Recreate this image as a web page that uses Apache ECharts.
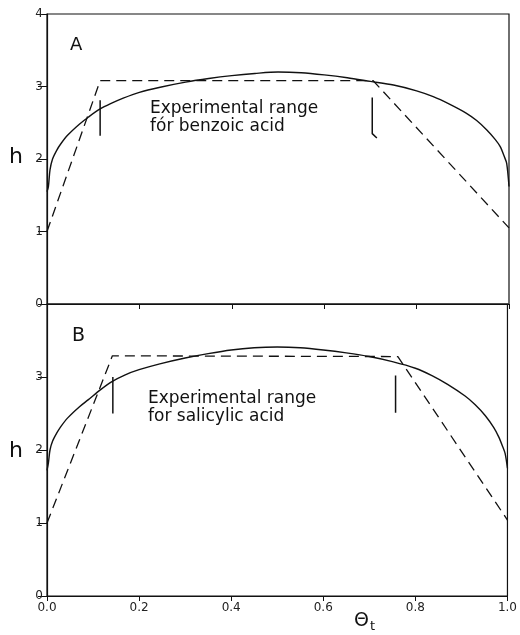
<!DOCTYPE html>
<html>
<head>
<meta charset="utf-8">
<script src="https://cdn.jsdelivr.net/npm/echarts@6/dist/echarts.min.js"></script>
<style>
  html, body { margin: 0; padding: 0; background: #fff; }
  #container { width: 520px; height: 635px; }
</style>
</head>
<body>
<div id="container"></div>
<script>
  // panel A (benzoic acid)
  const thetaA = [0, 0.003, 0.0065, 0.012, 0.021, 0.03, 0.045, 0.07, 0.09, 0.115, 0.14, 0.165, 0.2, 0.245, 0.3, 0.35, 0.4, 0.45, 0.5,
    0.55, 0.6, 0.65, 0.7, 0.75, 0.8, 0.836, 0.87, 0.908, 0.93, 0.952, 0.97, 0.981, 0.99, 0.995, 1.0]
  const hA = [1.55, 1.62, 1.85, 2.0, 2.12, 2.21, 2.33, 2.48, 2.58, 2.69, 2.77, 2.84, 2.92, 2.99, 3.06, 3.11, 3.15, 3.18, 3.2,
    3.19, 3.16, 3.12, 3.07, 3.02, 2.94, 2.86, 2.76, 2.63, 2.53, 2.4, 2.27, 2.17, 2.03, 1.94, 1.62]
  const dashThetaA = [0, 0.115, 0.706, 1.0]
  const dashHA = [1.0, 3.08, 3.08, 1.05]
  const rangeA = [[[0.115, 2.32], [0.115, 2.81]], [[0.704, 2.85], [0.704, 2.35], [0.714, 2.29]]]

  // panel B (salicylic acid)
  const thetaB = [0, 0.003, 0.0065, 0.012, 0.021, 0.03, 0.045, 0.07, 0.09, 0.115, 0.142, 0.17, 0.2, 0.245, 0.3, 0.35, 0.4, 0.45, 0.5,
    0.55, 0.6, 0.65, 0.7, 0.75, 0.8, 0.836, 0.87, 0.908, 0.93, 0.952, 0.97, 0.981, 0.99, 0.995, 1.0]
  const hB = [1.72, 1.82, 2.0, 2.12, 2.23, 2.32, 2.44, 2.59, 2.69, 2.82, 2.94, 3.03, 3.1, 3.18, 3.26, 3.32, 3.37, 3.4, 3.41,
    3.4, 3.37, 3.33, 3.28, 3.21, 3.12, 3.02, 2.9, 2.74, 2.62, 2.47, 2.31, 2.18, 2.04, 1.95, 1.75]
  const dashThetaB = [0, 0.142, 0.762, 1.0]
  const dashHB = [1.0, 3.29, 3.28, 1.04]
  const rangeB = [[[0.143, 2.5], [0.143, 3.0]], [[0.757, 2.51], [0.757, 3.02]]]

  const yTicks = [0, 1, 2, 3, 4]
  const xTicks = [0, 0.2, 0.4, 0.6, 0.8, 1.0]

  const pairs = (xs, ys) => xs.map((x, i) => [x, ys[i]])
  const font = 'DejaVu Sans'

  function xAxisOf(idx, showLabels) {
    return {
      type: 'value', gridIndex: idx, min: xTicks[0], max: xTicks[xTicks.length - 1], interval: 0.2,
      axisLine: { lineStyle: { color: '#111', width: 1.2 } },
      axisTick: { length: 5, lineStyle: { color: '#111' } },
      axisLabel: { show: showLabels, fontSize: 12, color: '#222', fontFamily: font, margin: 6,
        formatter: v => v.toFixed(1) },
      splitLine: { show: false }
    }
  }
  function yAxisOf(idx, hideTop) {
    return {
      type: 'value', gridIndex: idx, min: yTicks[0], max: yTicks[yTicks.length - 1], interval: 1,
      axisLine: { lineStyle: { color: '#111', width: 1.2 } },
      axisTick: { length: 9, lineStyle: { color: '#111' } },
      axisLabel: { fontSize: 12, color: '#222', fontFamily: font, margin: 4,
        formatter: v => (hideTop && v === 4) ? '' : String(v) },
      splitLine: { show: false }
    }
  }
  function solid(idx, data) {
    return { type: 'line', xAxisIndex: idx, yAxisIndex: idx, data: data, showSymbol: false,
      smooth: 0.3,
      lineStyle: { color: '#111', width: 1.4 } }
  }
  function dashed(idx, data) {
    return { type: 'line', xAxisIndex: idx, yAxisIndex: idx, data: data, showSymbol: false,
      lineStyle: { color: '#111', width: 1.3, type: [10, 6] } }
  }
  function marker(idx, data) {
    return { type: 'line', xAxisIndex: idx, yAxisIndex: idx, data: data, showSymbol: false,
      lineStyle: { color: '#111', width: 1.5 } }
  }

  const series = [
    solid(0, pairs(thetaA, hA)),
    dashed(0, pairs(dashThetaA, dashHA)),
    solid(1, pairs(thetaB, hB)),
    dashed(1, pairs(dashThetaB, dashHB))
  ]
  rangeA.forEach(r => series.push(marker(0, r)))
  rangeB.forEach(r => series.push(marker(1, r)))

  const txt = (left, top, text, size) => ({ type: 'text', left: left, top: top,
    style: { text: text, fontSize: size, fontFamily: font, fill: '#111', lineHeight: Math.round(size * 1.08) } })

  const myChart = echarts.init(document.getElementById('container'))
  myChart.setOption({
    animation: false,
    backgroundColor: '#fff',
    grid: [
      { left: 47, top: 14, width: 462, height: 290, show: true, borderColor: '#111', borderWidth: 1.2 },
      { left: 47, top: 304, width: 462, height: 292, show: true, borderColor: '#111', borderWidth: 1.2 }
    ],
    xAxis: [xAxisOf(0, false), xAxisOf(1, true)],
    yAxis: [yAxisOf(0, false), yAxisOf(1, true)],
    series: series,
    graphic: [
      txt(70, 36, 'A', 18),
      txt(72, 326, 'B', 19),
      txt(9, 145, 'h', 22),
      txt(9, 439, 'h', 22),
      txt(150, 100, 'Experimental range\nfór benzoic acid', 17),
      txt(148, 390, 'Experimental range\nfor salicylic acid', 17),
      { type: 'text', left: 354, top: 612,
        style: { text: '{a|Θ}{b|t}', fill: '#111',
          rich: { a: { fontSize: 19, fontFamily: font }, b: { fontSize: 13, fontFamily: font, padding: [10, 0, 0, 1] } } } }
    ]
  })
</script>
</body>
</html>
